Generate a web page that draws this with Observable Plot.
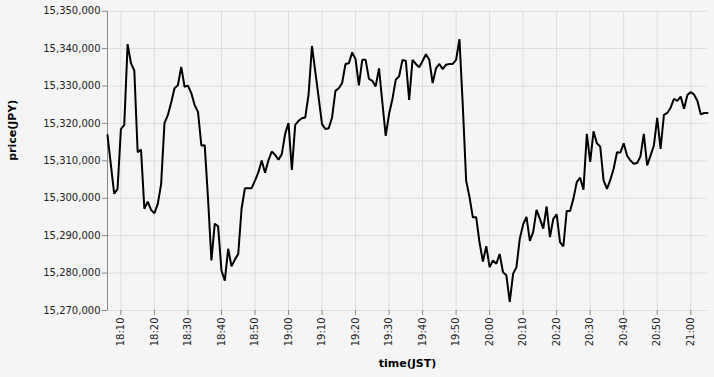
<!DOCTYPE html>
<html>
<head>
<meta charset="utf-8">
<script src="https://cdn.jsdelivr.net/npm/d3@7"></script>
<script src="https://cdn.jsdelivr.net/npm/@observablehq/plot@0.6"></script>
<style>
  html, body { margin: 0; padding: 0; background: #f5f5f5; }
  svg { display: block; }
</style>
</head>
<body>
<div id="chart"></div>
<script>
// First sample time (JST clock), one sample per minute
const startTime = "18:06";

// Price in JPY, one value per minute from 18:06
const prices = [
  15316900, 15309000, 15301200, 15302500, 15318500, 15319600, 15341200, 15336100, 15334100, 15312300,
  15313000, 15297200, 15299100, 15296900, 15296000, 15298500, 15303800, 15320100, 15322200, 15325600,
  15329400, 15330200, 15335100, 15329800, 15330100, 15328100, 15324900, 15323100, 15314100, 15314200,
  15299800, 15283400, 15293200, 15292500, 15280700, 15278000, 15286500, 15281800, 15283600, 15285100,
  15297200, 15302700, 15302700, 15302700, 15304700, 15306900, 15310100, 15306800, 15310100, 15312500,
  15311600, 15310300, 15311800, 15317200, 15320100, 15307600, 15319600, 15320700, 15321400, 15321600,
  15327800, 15340700, 15333800, 15326800, 15319800, 15318500, 15318700, 15321600, 15328700, 15329400,
  15330800, 15335900, 15336100, 15339000, 15337200, 15330200, 15337000, 15337000, 15331900, 15331400,
  15329900, 15334700, 15325600, 15316700, 15322500, 15326500, 15331700, 15332600, 15337000, 15336700,
  15326300, 15337000, 15335900, 15335000, 15336700, 15338500, 15337000, 15330800, 15334700, 15335900,
  15334500, 15335700, 15335900, 15335900, 15337000, 15342500, 15324700, 15304700, 15300300, 15294900,
  15294900, 15288100, 15283100, 15287200, 15281600, 15283400, 15282500, 15285100, 15280200, 15279400,
  15272300, 15279800, 15281600, 15289200, 15293000, 15295000, 15288600, 15291000, 15296900, 15294500,
  15291900, 15297800, 15289600, 15294500, 15295700, 15288300, 15287100, 15296600, 15296600, 15299900,
  15304300, 15305500, 15302300, 15317200, 15309700, 15317900, 15314700, 15313800, 15304800, 15302500,
  15304900, 15307900, 15312300, 15312200, 15314700, 15311400, 15310100, 15309200, 15309400, 15311200,
  15317200, 15308800, 15311400, 15314100, 15321500, 15313200, 15322300, 15322800, 15324200, 15326600,
  15326000, 15327200, 15323900, 15327600, 15328400, 15327700, 15326000, 15322400, 15322800, 15322800
];

const yTickValues = [15270000, 15280000, 15290000, 15300000, 15310000, 15320000, 15330000, 15340000, 15350000];
const xTickLabels = ["18:10", "18:20", "18:30", "18:40", "18:50", "19:00", "19:10", "19:20", "19:30",
                     "19:40", "19:50", "20:00", "20:10", "20:20", "20:30", "20:40", "20:50", "21:00"];

const toDate = (hm) => {
  const [h, m] = hm.split(":").map(Number);
  return new Date(Date.UTC(2024, 0, 1, h, m));
};
const t0 = toDate(startTime).getTime();
const data = prices.map((p, i) => ({time: new Date(t0 + i * 60000), price: p}));
const xTicks = xTickLabels.map(toDate);

const chart = Plot.plot({
  width: 714,
  height: 377,
  marginLeft: 107,
  marginRight: 7,
  marginTop: 10.7,
  marginBottom: 67,
  style: {background: "#f5f5f5", fontFamily: "'DejaVu Sans', sans-serif", fontSize: "10px", overflow: "visible"},
  x: {type: "utc", domain: [data[0].time, data[data.length - 1].time]},
  y: {domain: [yTickValues[0], yTickValues[yTickValues.length - 1]]},
  marks: [
    Plot.gridY(yTickValues, {stroke: "#dddddd", strokeOpacity: 1}),
    Plot.gridX(xTicks, {stroke: "#dddddd", strokeOpacity: 1}),
    Plot.ruleX([data[0].time], {stroke: "#888888"}),
    Plot.axisY(yTickValues, {tickSize: 5, tickPadding: 2, tickFormat: d3.format(","), stroke: "#888888", fill: "#222222", label: null}),
    Plot.axisX(xTicks, {tickSize: 5, tickPadding: 2, tickRotate: -90, tickFormat: d3.utcFormat("%H:%M"), stroke: "#888888", fill: "#222222", label: null}),
    Plot.line(data, {x: "time", y: "price", stroke: "black", strokeWidth: 2, strokeLinejoin: "miter"}),
    Plot.text(["price(JPY)"], {frameAnchor: "left", rotate: -90, dx: -95, fontWeight: "bold", fontSize: 11, fill: "#000"}),
    Plot.text(["time(JST)"], {frameAnchor: "bottom", dy: 56, fontWeight: "bold", fontSize: 11, fill: "#000"})
  ]
});
document.getElementById("chart").appendChild(chart);
</script>
</body>
</html>
